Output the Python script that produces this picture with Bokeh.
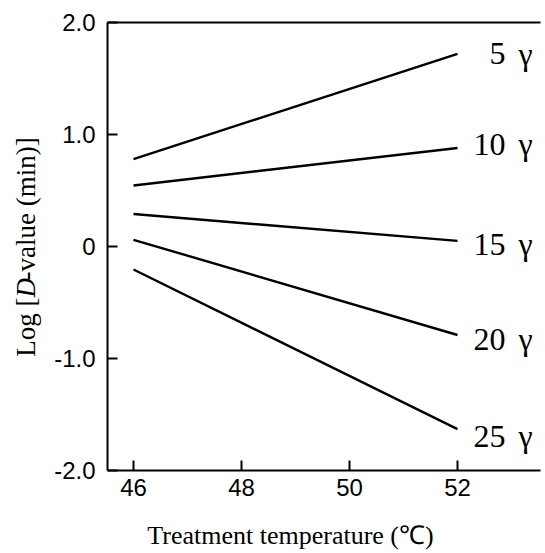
import math
from bokeh.plotting import figure
from bokeh.models import ColumnDataSource, FixedTicker, LinearAxis, Range1d
from bokeh.layouts import row, column
from bokeh.core.properties import value
from bokeh.embed import file_html
from bokeh.resources import INLINE

# ---- data ----
temps = [46, 52]
log_d_5 = [0.78, 1.72]
log_d_10 = [0.545, 0.88]
log_d_15 = [0.29, 0.05]
log_d_20 = [0.06, -0.79]
log_d_25 = [-0.205, -1.63]
series = [log_d_5, log_d_10, log_d_15, log_d_20, log_d_25]
dose_labels = ["5", "10", "15", "20", "25"]
label_y = [1.72, 0.915, 0.02, -0.826, -1.696]
x_ticks = [46, 48, 50, 52]
y_ticks = [-2, -1, 0, 1, 2]
y_tick_labels = {-2: "-2.0", -1: "-1.0", 0: "0", 1: "1.0", 2: "2.0"}
x_title = "Treatment temperature (℃)"
y_title_parts = ["Log [", "D", "-value (min)]"]

SERIF = "Liberation Serif"
SANS = "Liberation Sans"

W, H = 545, 553
LEFT_W = 50
BOTTOM_H = 40
MAIN_H = H - BOTTOM_H

# ---- main plot ----
p = figure(width=W - LEFT_W, height=MAIN_H, output_backend="svg", toolbar_location=None,
           x_range=Range1d(45.5185, 53.537), y_range=Range1d(-2, 2),
           min_border_left=107 - LEFT_W, min_border_right=5, min_border_top=22,
           min_border_bottom=MAIN_H - 470)
p.outline_line_color = None
p.grid.visible = False

for ys in series:
    p.line(temps, ys, line_color="black", line_width=2.4)

src = ColumnDataSource(dict(x=[temps[-1]] * len(dose_labels), y=label_y,
                            num=dose_labels, g=["γ"] * len(dose_labels)))
p.text(x="x", y="y", text="num", source=src, text_align="right", text_baseline="middle",
       x_offset=48, text_font=value(SERIF), text_font_size="32px", text_color="black")
p.text(x="x", y="y", text="g", source=src, text_align="left", text_baseline="middle",
       x_offset=61, text_font=value(SERIF), text_font_size="32px", text_color="black")

for ax in p.xaxis:
    ax.ticker = FixedTicker(ticks=x_ticks)
for ax in p.yaxis:
    ax.ticker = FixedTicker(ticks=y_ticks)
    ax.major_label_overrides = y_tick_labels

for ax in p.xaxis + p.yaxis:
    ax.axis_line_color = "black"
    ax.axis_line_width = 2
    ax.major_tick_line_color = "black"
    ax.major_tick_line_width = 2
    ax.major_tick_in = 10
    ax.major_tick_out = 0
    ax.minor_tick_line_color = None
    ax.major_label_text_font = SANS
    ax.major_label_text_font_size = "24px"
    ax.major_label_text_color = "black"
p.yaxis.major_label_standoff = 12
p.xaxis.major_label_standoff = 8

top = LinearAxis(ticker=FixedTicker(ticks=[]), axis_line_color="black", axis_line_width=2,
                 major_tick_line_color=None, minor_tick_line_color=None,
                 major_label_text_font_size="0px")
p.add_layout(top, "above")

# ---- y-axis title strip (mixed upright / italic) ----
ly = figure(width=LEFT_W, height=MAIN_H, output_backend="svg", toolbar_location=None,
            x_range=Range1d(0, LEFT_W), y_range=Range1d(0, MAIN_H),
            x_axis_type=None, y_axis_type=None,
            min_border_left=0, min_border_right=0, min_border_top=0, min_border_bottom=0)
ly.outline_line_color = None
ly.grid.visible = False
fs = 27
d_start = MAIN_H - 298 - 17      # where the italic D begins (strip units = px)
d_len = 0.722 * fs
pieces = [(y_title_parts[0], d_start, "right", "normal"),
          (y_title_parts[1], d_start, "left", "italic"),
          (y_title_parts[2], d_start + d_len, "left", "normal")]
for txt, yy, al, st in pieces:
    ly.text(x=[25], y=[yy], text=[txt], angle=math.pi / 2,
            text_align=al, text_baseline="middle",
            text_font=value(SERIF), text_font_style=st, text_font_size=f"{fs}px",
            text_color="black")

# ---- x-axis title strip ----
bx = figure(width=W, height=BOTTOM_H, output_backend="svg", toolbar_location=None,
            x_range=Range1d(0, W), y_range=Range1d(0, BOTTOM_H),
            x_axis_type=None, y_axis_type=None,
            min_border_left=0, min_border_right=0, min_border_top=0, min_border_bottom=0)
bx.outline_line_color = None
bx.grid.visible = False
bx.text(x=[290], y=[H - 535], text=[x_title], text_align="center", text_baseline="middle",
        text_font=value(SERIF), text_font_size="26px", text_color="black")

layout = column(row(ly, p, spacing=0), bx, spacing=0)
open("out.html", "w").write(file_html(layout, INLINE))
